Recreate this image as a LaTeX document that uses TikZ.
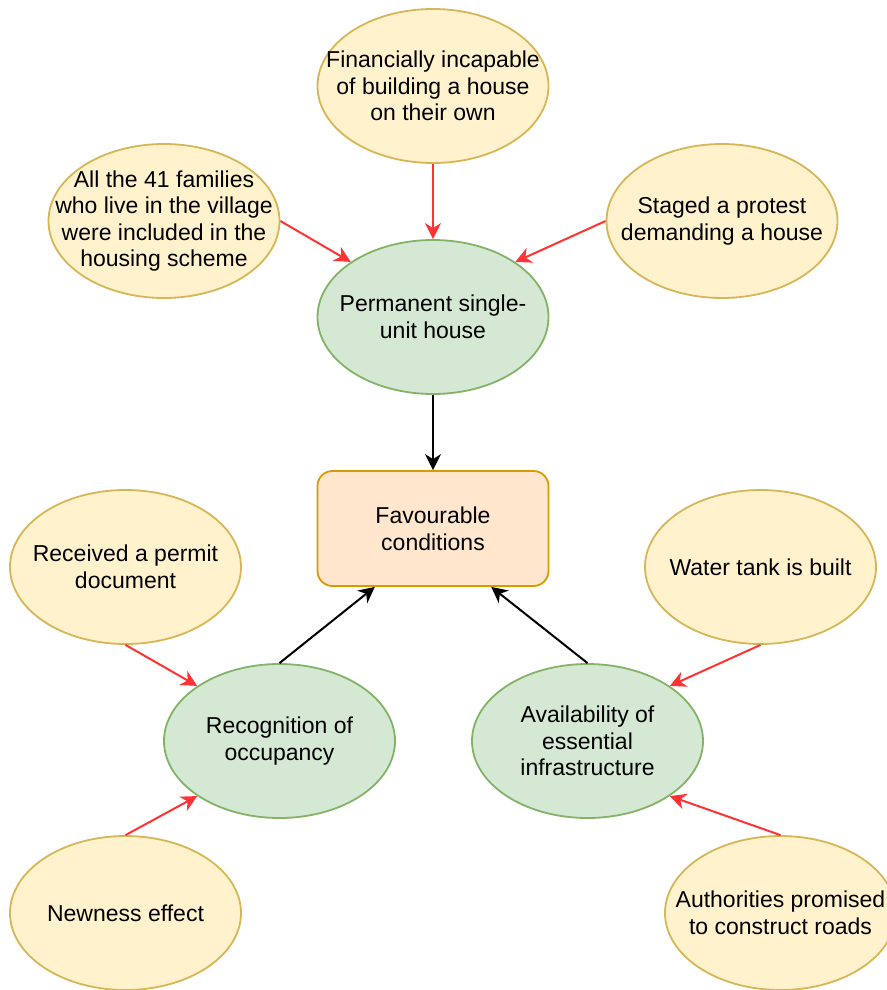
\documentclass[tikz,border=0pt]{standalone}
\usepackage{fontspec}
\setmainfont{Liberation Sans}
\usepackage{tikz}
\usetikzlibrary{positioning, arrows.meta, shapes.geometric, calc}
\usepackage{xcolor}

\definecolor{yellowfill}{HTML}{FFF2CC}
\definecolor{yellowline}{HTML}{D6B656}
\definecolor{greenfill}{HTML}{D5E8D4}
\definecolor{greenline}{HTML}{82B366}
\definecolor{orangefill}{HTML}{FFE6CC}
\definecolor{orangeline}{HTML}{D79B00}
\definecolor{redarrow}{HTML}{FF3333}

\begin{document}
\begin{tikzpicture}[x=1pt, y=-1pt,
    blob/.style={ellipse, minimum width=231pt, minimum height=154pt, inner sep=0pt, line width=1.8pt},
    factor/.style={blob, draw=yellowline, fill=yellowfill},
    outcome/.style={blob, draw=greenline, fill=greenfill},
    txt/.style={align=center, inner sep=0pt, font=\fontsize{23}{26.6}\selectfont},
    redarr/.style={-{Stealth[length=16pt, width=16pt, inset=5pt]}, line width=2pt, redarrow},
    blackarr/.style={-{Stealth[length=16pt, width=16pt, inset=5pt]}, line width=2pt, black}]
    \useasboundingbox (0,0) rectangle (886,990);

    % Upper group
    \node[factor, label={[txt]center:{Financially incapable\\of building a house\\on their own}}] (fin) at (433,86) {};
    \node[factor, label={[txt]center:{All the 41 families\\who live in the village\\were included in the\\housing scheme}}] (families) at (164,221) {};
    \node[factor, label={[txt]center:{Staged a protest\\demanding a house}}] (protest) at (722,221) {};
    \node[outcome, label={[txt]center:{Permanent single-\\unit house}}] (house) at (433,317) {};

    % Centre box
    \node[draw=orangeline, fill=orangefill, line width=1.8pt, rounded corners=15pt,
          minimum width=231pt, minimum height=115pt, txt] (cond) at (433,528.5) {Favourable\\conditions};

    % Lower left group
    \node[factor, label={[txt]center:{Received a permit\\document}}] (permit) at (125.5,567) {};
    \node[outcome, label={[txt]center:{Recognition of\\occupancy}}] (recog) at (279.5,741) {};
    \node[factor, label={[txt]center:{Newness effect}}] (newness) at (125.5,913) {};

    % Lower right group
    \node[factor, label={[txt]center:{Water tank is built}}] (water) at (760.5,567) {};
    \node[outcome, label={[txt]center:{Availability of\\essential\\infrastructure}}] (infra) at (587.5,741) {};
    \node[factor, label={[txt]center:{Authorities promised\\to construct roads}}] (roads) at (780.5,913) {};

    % Red arrows
    \draw[redarr] (fin.south) -- (house.north);
    \draw[redarr] (families.east) -- (house.north west);
    \draw[redarr] (protest.west) -- (house.north east);
    \draw[redarr] (permit.south) -- (recog.north west);
    \draw[redarr] (newness.north) -- (recog.south west);
    \draw[redarr] (water.south) -- (infra.north east);
    \draw[redarr] (roads.north) -- (infra.south east);

    % Black arrows
    \draw[blackarr] (house.south) -- (cond.north);
    \draw[blackarr] (recog.north) -- ($(cond.south west)!0.25!(cond.south east)$);
    \draw[blackarr] (infra.north) -- ($(cond.south west)!0.75!(cond.south east)$);

\end{tikzpicture}
\end{document}
